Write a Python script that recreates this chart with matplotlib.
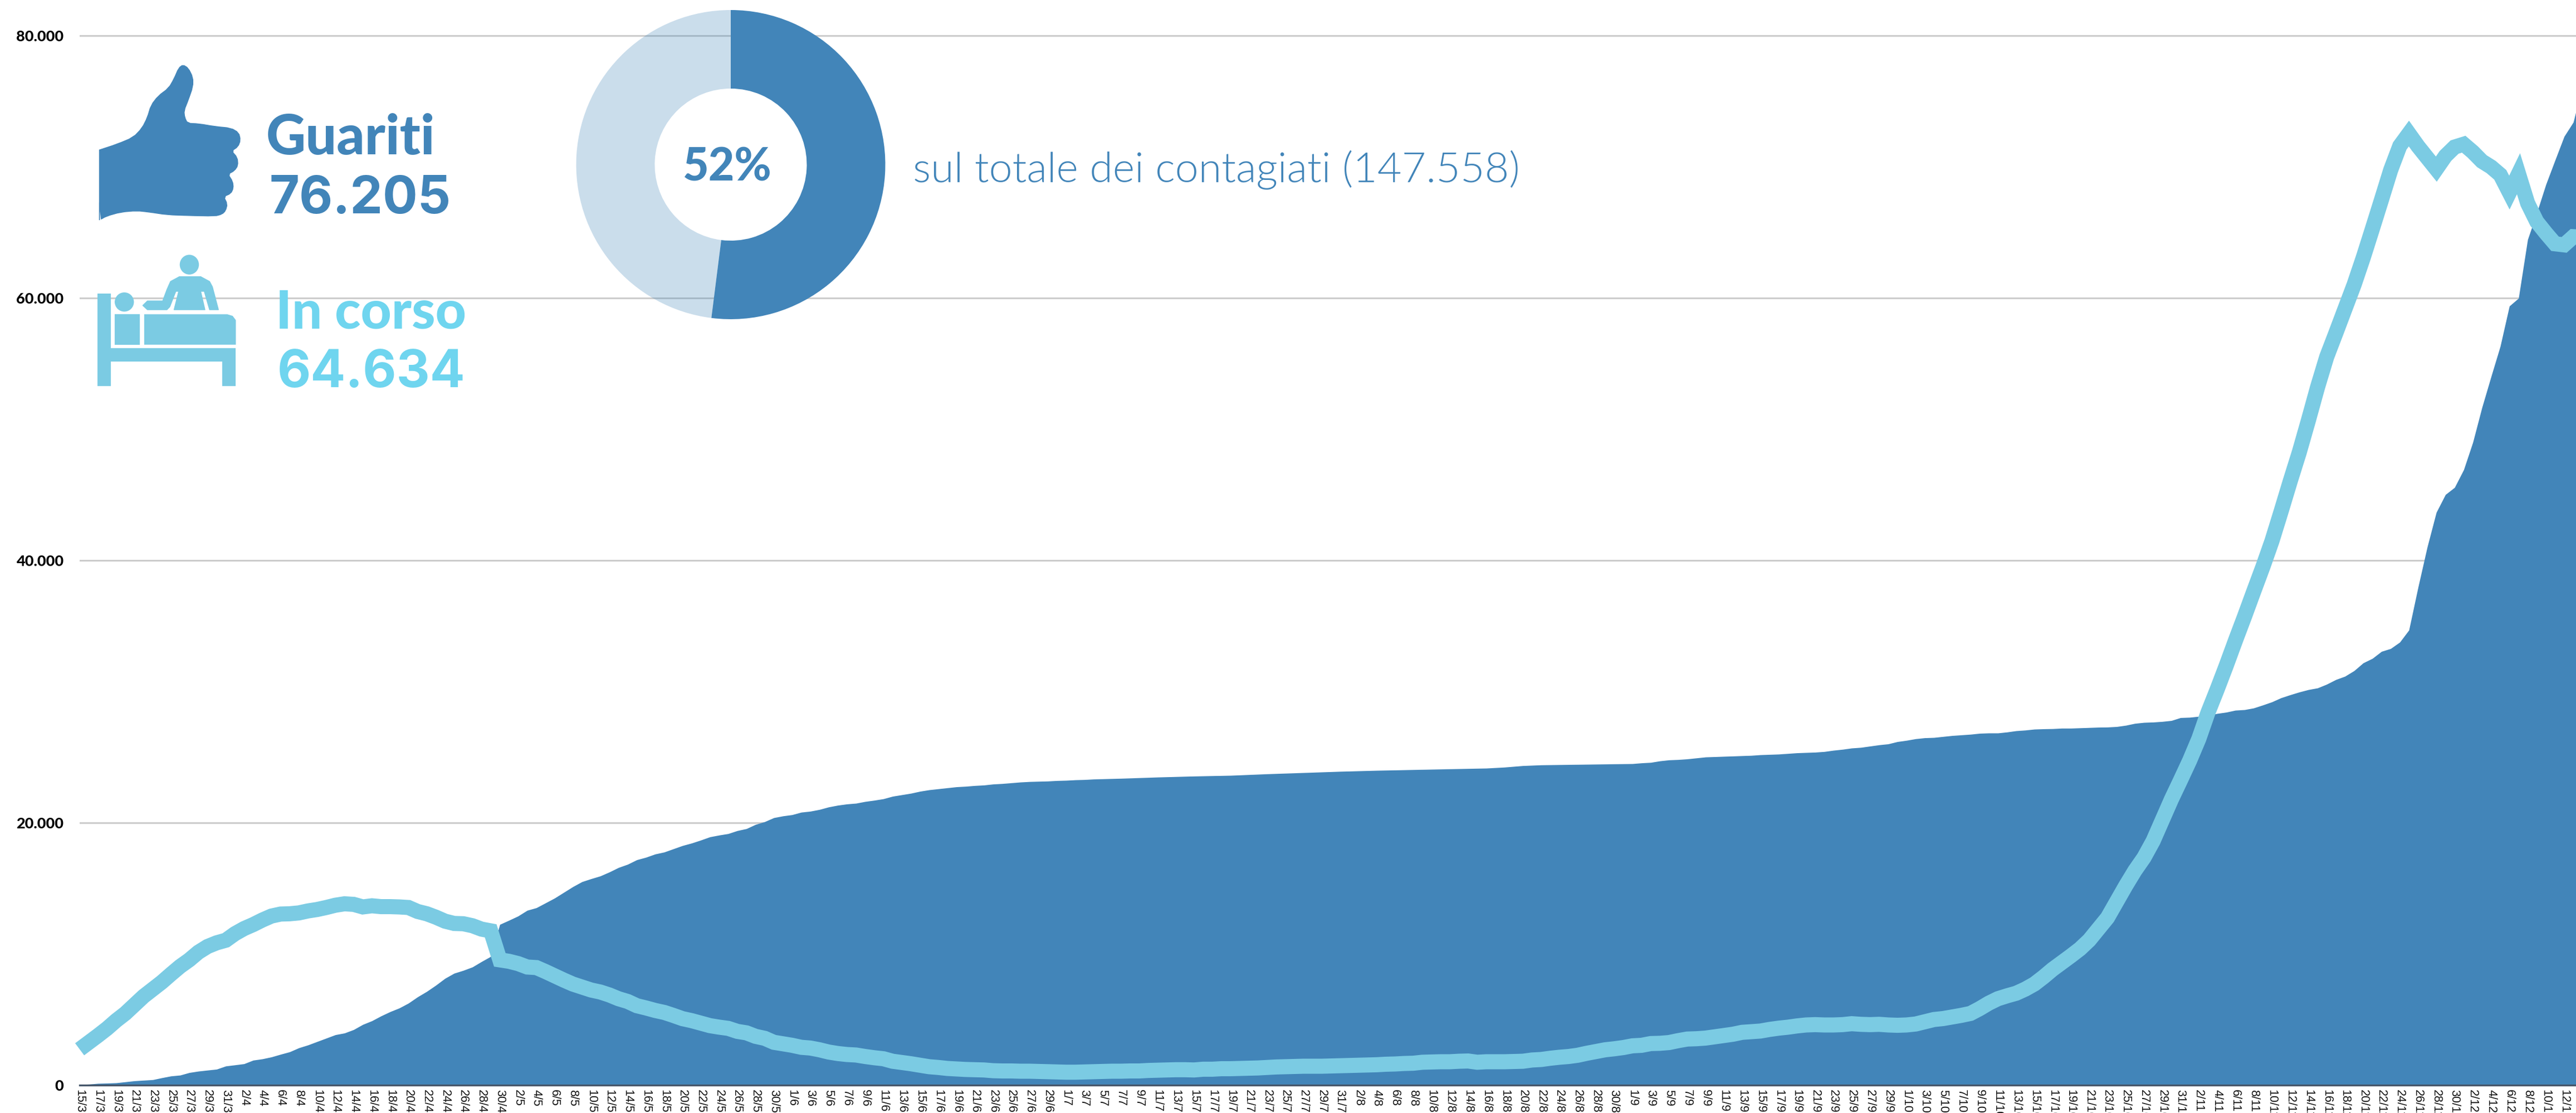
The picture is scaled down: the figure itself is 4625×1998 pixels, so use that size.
import numpy as np
import pandas as pd
import matplotlib
matplotlib.use("Agg")
import matplotlib.pyplot as plt
from matplotlib.patches import Polygon, Ellipse, Rectangle

W, H = 4625, 1998
BLUE = "#4285b9"
LINE = "#7bcbe3"
CYAN = "#6fd5ef"

# days counted from 15/3/2020
guariti_days = list(range(0, 114)) + [114, 118, 122, 126, 130, 134, 138, 142, 146, 150, 154, 156, 158, 160,
                                      164, 168, 170, 171, 172, 173, 174] + list(range(175, 275))
guariti = [43, 70, 130, 150, 174, 250, 326, 370, 412, 560, 694, 760, 955, 1063, 1140, 1215, 1454, 1540, 1628, 1900,
           2000, 2148, 2350, 2539, 2843, 3060, 3320, 3580, 3840, 3971, 4232, 4622, 4904, 5273, 5600, 5880, 6250, 6727,
           7140, 7616, 8137, 8528, 8745, 9005, 9418, 9808, 12250, 12564, 12890, 13324, 13520, 13887, 14257, 14692,
           15127, 15507, 15734, 15943, 16247, 16588, 16835, 17177, 17367, 17613, 17765, 18012, 18259, 18449, 18676,
           18923, 19056, 19170, 19398, 19549, 19872, 20081, 20385, 20518, 20612, 20802, 20878, 21011, 21201, 21334,
           21429, 21486, 21619, 21714, 21827, 22017, 22131, 22245, 22397, 22510, 22586, 22662, 22738, 22776, 22833,
           22871, 22947, 22985, 23042, 23099, 23137, 23156, 23175, 23213, 23232, 23270, 23289, 23327, 23346, 23365,
           23383, 23478, 23554, 23611, 23725, 23820, 23915, 23991, 24048, 24105, 24161, 24237, 24351, 24408, 24446,
           24484, 24503, 24560, 24598, 24712, 24788,
           24815, 24864, 24937, 25010, 25034, 25059, 25083, 25108, 25132, 25181, 25205, 25230, 25278, 25327, 25352,
           25376, 25425, 25522, 25596, 25693, 25742, 25840, 25937, 26010, 26181, 26279, 26401, 26474, 26498, 26572,
           26645, 26694, 26742, 26816, 26840, 26840, 26913, 27011, 27060, 27133, 27157, 27170, 27206, 27206, 27230,
           27255, 27279, 27291, 27328, 27426, 27572, 27645, 27670, 27718, 27792, 28011, 28036, 28109, 28182, 28328,
           28426, 28576, 28618, 28745, 28971, 29212, 29523, 29752, 29964, 30147, 30274, 30558, 30911, 31166, 31590,
           32185, 32525, 33060, 33277, 33765, 34687, 37940, 41004, 43662, 45018, 45560, 46916, 49003, 51660, 54020,
           56324, 59388, 59985, 64459, 66492, 68661, 70505, 72322, 73407, 76205]

in_corso = [2734, 3255, 3776, 4318, 4926, 5468, 6120, 6770, 7313, 7855, 8463, 9050, 9548, 10134, 10568, 10850, 11045,
            11544, 11935, 12239, 12586, 12890, 13042, 13064, 13129, 13280, 13389, 13541, 13715, 13824, 13780, 13585,
            13672, 13607, 13607, 13585, 13541, 13238, 13064, 12803, 12499, 12326, 12304, 12152, 11892, 11762, 9548,
            9440, 9266, 9005, 8962, 8658, 8333, 8007, 7703, 7478, 7250, 7099, 6871, 6586, 6377, 6055, 5884, 5694,
            5542, 5314, 5068, 4916, 4726, 4536, 4422, 4327, 4100, 3986, 3720, 3568, 3265, 3151, 3037, 2885, 2828,
            2695, 2524, 2410, 2335, 2297, 2183, 2088, 2012, 1822, 1727, 1632, 1518, 1405, 1348, 1272, 1234, 1196,
            1177, 1158, 1101, 1082, 1082, 1063, 1063, 1044, 1025, 1006, 987, 987, 1006, 1025, 1044, 1063,
            1063, 1082, 1082, 1120, 1139, 1158, 1177, 1177, 1158, 1215, 1215, 1253, 1253, 1272, 1291, 1310, 1348,
            1386, 1405, 1424, 1443, 1443, 1443, 1462, 1481, 1500, 1519, 1538, 1556, 1594, 1613, 1651, 1670, 1746,
            1765, 1784, 1784, 1822, 1841, 1746, 1784, 1784, 1784, 1803, 1822, 1917, 1955, 2050, 2126, 2183, 2278,
            2429, 2562, 2695, 2771, 2866, 2999, 3037, 3170, 3189, 3246,
            3392, 3514, 3538, 3587, 3684, 3782, 3880, 4026, 4075, 4124, 4246, 4343, 4416, 4514, 4587, 4612, 4587,
            4587, 4612, 4685, 4636, 4612, 4636, 4587, 4563, 4587, 4660, 4831, 5002, 5075, 5197, 5319, 5465, 5831,
            6246, 6588, 6807, 7003, 7320, 7710, 8247, 8832, 9345, 9857, 10394, 11053, 11907, 12761, 13981, 15201,
            16348, 17349, 18617, 20203, 21789, 23253, 24750, 26400, 28400, 30150,
            31975, 33873, 35717, 37615, 39486, 41465, 43715, 46020, 48244, 50684, 53206, 55511, 57327, 59171, 61015,
            63076, 65272, 67496, 69746, 71590, 72539, 71563, 70695, 69827, 70830, 71508, 71725, 71129, 70424, 69990,
            69394, 68038, 69475, 67224, 65814, 64947, 64133, 64052, 64676, 64634]

y_ticks = [0, 20000, 40000, 60000, 80000]
y_labels = ["0", "20.000", "40.000", "60.000", "80.000"]
dates = pd.date_range("2020-03-15", "2020-12-12", freq="2D")
x_labels = [f"{d.day}/{d.month}" for d in dates]
x_ticks = [(d - dates[0]).days for d in dates]

quota = [52, 48]

# icon outlines, in pixels of a 1568 wide crop of the top left corner
thumb = [(280, 562), (330, 540), (375, 515), (400, 480), (415, 440), (425, 395), (445, 360), (475, 330), (490, 295),
         (503, 255), (515, 243), (530, 255), (543, 290), (543, 325), (530, 375), (518, 415), (520, 440), (528, 462),
         (560, 464), (605, 474), (650, 480), (672, 497), (677, 525), (670, 550), (652, 566), (668, 590), (670, 620),
         (660, 640), (642, 653), (655, 680), (657, 705), (650, 725), (630, 737), (640, 765), (635, 790), (625, 803),
         (605, 810), (530, 808), (470, 805), (420, 795), (385, 790), (340, 795), (300, 810), (280, 825)]
nurse = [(505, 1037), (480, 1055), (470, 1085), (458, 1128), (415, 1128), (402, 1145), (415, 1161), (470, 1161),
         (478, 1150), (495, 1092), (503, 1092), (490, 1161), (577, 1161), (565, 1092), (575, 1092), (590, 1161),
         (615, 1161), (598, 1075), (590, 1055), (565, 1037)]
mattress = [(406, 1178), (640, 1178), (655, 1184), (664, 1200), (664, 1292), (406, 1292)]
bed_boxes = [(274, 1100, 312, 1447), (312, 1306, 664, 1355), (626, 1355, 664, 1447), (323, 1177, 394, 1292)]
heads = [(350, 1132, 54, 72), (533, 992, 54, 74)]


def fx(x):
    return x / W


def fy(y):
    return 1 - y / H


def icon(p):
    return fx(p[0] * 1000 / 1568), fy(p[1] * 750 / 1566)


def rounder(pts):
    # cut corners of an outline, keeping the straight wrist on the left
    pts = np.array(pts, dtype=float)
    nxt = np.roll(pts, -1, axis=0)
    cut = np.column_stack([0.75 * pts + 0.25 * nxt, 0.25 * pts + 0.75 * nxt]).reshape(-1, 2)
    return [tuple(pts[0])] + [tuple(p) for p in cut[1:-1]] + [tuple(pts[-1])]


fig = plt.figure(figsize=(W / 100, H / 100), dpi=100, facecolor="white")
ax = fig.add_axes([143 / W, 50 / H, (W - 143) / W, (H - 50) / H])
ax.set_xlim(0, (W - 143) / 16.4)
ax.set_ylim(0, 1948 / 0.02355)

ax.fill_between(guariti_days, guariti, 0, color=BLUE, linewidth=0, zorder=2)
ax.plot(range(len(in_corso)), in_corso, color=LINE, lw=19.5, solid_joinstyle="miter", solid_capstyle="butt",
        zorder=3, clip_on=False)

ax.set_axisbelow(True)
ax.yaxis.grid(True, color="#cccccc", lw=2.2)
ax.set_yticks(y_ticks, y_labels, fontsize=19.5, fontweight=900, fontfamily="Lato", color="black")
ax.set_xticks(x_ticks, x_labels, rotation=270, fontsize=15.5, fontfamily="Liberation Sans", color="#111111",
              va="top", ha="center")
ax.tick_params(axis="y", length=0, pad=21)
ax.tick_params(axis="x", length=0, pad=5.5)
for s in ["top", "left", "right"]:
    ax.spines[s].set_visible(False)
ax.spines["bottom"].set_color("#46566a")
ax.spines["bottom"].set_linewidth(2.4)

# donut
dn = fig.add_axes([(1312 - 277.5) / W, 1 - (295.5 + 277.5) / H, 555 / W, 555 / H], zorder=2)
wedges, _ = dn.pie(quota, colors=[BLUE, BLUE], startangle=90, counterclock=False,
                   radius=1, wedgeprops={"width": 141 / 277.5, "linewidth": 0})
wedges[1].set_alpha(0.28)
dn.set_xlim(-1, 1)
dn.set_ylim(-1, 1)
dn.patch.set_alpha(0)

# icons
fig.add_artist(Polygon([icon(p) for p in rounder(thumb)], closed=True, facecolor=BLUE, edgecolor=BLUE, lw=1))
for x0, y0, x1, y1 in bed_boxes:
    a, b = icon((x0, y1))
    c, d = icon((x1, y0))
    fig.add_artist(Rectangle((a, b), c - a, d - b, facecolor=LINE, edgecolor="none"))
fig.add_artist(Polygon([icon(p) for p in mattress], closed=True, facecolor=LINE, edgecolor="none"))
fig.add_artist(Polygon([icon(p) for p in nurse], closed=True, facecolor=LINE, edgecolor=LINE, lw=1, joinstyle="round"))
for x0, y0, w, h in heads:
    fig.add_artist(Ellipse(icon((x0, y0)), w * 1000 / 1568 / W, h * 750 / 1566 / H, facecolor=LINE, edgecolor="none"))

# texts
fig.text(fx(478), fy(277), "Guariti", fontsize=71, fontweight=900, fontfamily="Lato", color=BLUE)
fig.text(fx(484), fy(383), "76.205", fontsize=67, fontweight="bold", fontfamily="Inter", color=BLUE)
fig.text(fx(495), fy(589), "In corso", fontsize=69, fontweight=900, fontfamily="Lato", color=CYAN)
fig.text(fx(498), fy(695), "64.634", fontsize=67, fontweight="bold", fontfamily="Inter", color=CYAN)
fig.text(fx(1226), fy(325), "52%", fontsize=58, fontweight=900, fontfamily="Lato", color=BLUE)
fig.text(fx(1639), fy(326), "sul totale dei contagiati (147.558)", fontsize=54.3, fontweight=300, fontfamily="Lato",
         color=BLUE)

fig.savefig("out.png", dpi=100)
